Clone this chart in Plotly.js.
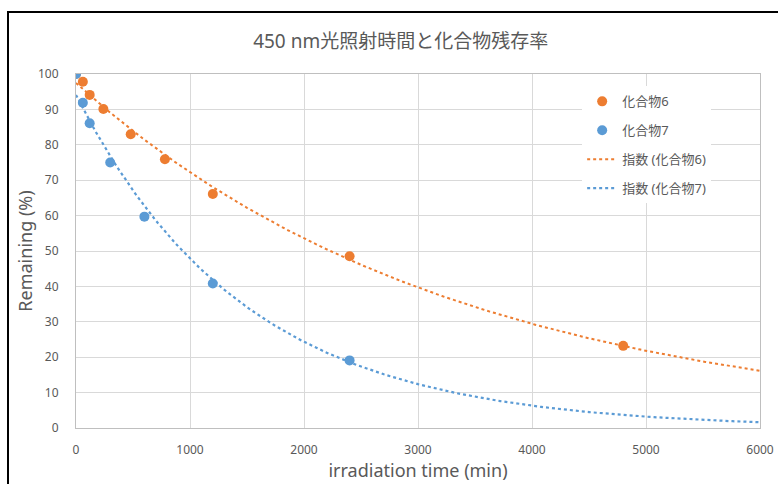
<!DOCTYPE html>
<html>
<head>
<meta charset="utf-8">
<script src="https://cdn.plot.ly/plotly-3.0.1.min.js"></script>
<style>
html,body{margin:0;padding:0;background:#fff;}
#wrap{position:relative;width:778px;height:484px;overflow:hidden;}
#chart{position:absolute;left:0;top:0;width:778px;height:484px;}
#frame{position:absolute;left:7px;top:11px;width:800px;height:500px;border-left:2.5px solid #000;border-top:2.5px solid #000;pointer-events:none;}
</style>
</head>
<body>
<div id="wrap"><div id="chart"></div><div id="frame"></div></div>
<script>
// Data
const time6 = [0, 60, 120, 240, 480, 780, 1200, 2400, 4800];
const remain6 = [100, 97.8, 94.1, 90.1, 83.0, 75.9, 66.1, 48.5, 23.2];
const time7 = [0, 60, 120, 300, 600, 1200, 2400];
const remain7 = [100, 91.9, 86.1, 75.0, 59.7, 40.8, 19.1];
const name6 = '化合物6';
const name7 = '化合物7';
const trendName6 = '指数 (化合物6)';
const trendName7 = '指数 (化合物7)';
const xTicks = [0, 1000, 2000, 3000, 4000, 5000, 6000];
const yTicks = [0, 10, 20, 30, 40, 50, 60, 70, 80, 90, 100];

// Exponential least-squares fit (like a spreadsheet exponential trendline)
function expFit(xs, ys) {
  const n = xs.length;
  const ly = ys.map(v => Math.log(v));
  const mx = xs.reduce((a, b) => a + b, 0) / n;
  const my = ly.reduce((a, b) => a + b, 0) / n;
  let sxy = 0, sxx = 0;
  for (let i = 0; i < n; i++) { sxy += (xs[i] - mx) * (ly[i] - my); sxx += (xs[i] - mx) ** 2; }
  const b = sxy / sxx;
  const a = Math.exp(my - b * mx);
  return x => a * Math.exp(b * x);
}
const fit6 = expFit(time6, remain6);
const fit7 = expFit(time7, remain7);
const xs = [];
for (let x = 0; x <= 6000; x += 30) xs.push(x);

const orange = '#ED7D31';
const blue = '#5B9BD5';
const gray = '#595959';
const font = '"Noto Sans", "Noto Sans CJK JP", sans-serif';

const traces = [
  {x: xs, y: xs.map(fit6), mode: 'lines', name: trendName6, legendrank: 3, legendgroup: 'c',
   line: {color: orange, width: 2, dash: 'dot'}, hoverinfo: 'skip'},
  {x: xs, y: xs.map(fit7), mode: 'lines', name: trendName7, legendrank: 4, legendgroup: 'd',
   line: {color: blue, width: 2.2, dash: 'dot'}, hoverinfo: 'skip'},
  {x: time6, y: remain6, mode: 'markers', name: name6, legendrank: 1, legendgroup: 'a',
   marker: {color: orange, size: 10}},
  {x: time7, y: remain7, mode: 'markers', name: name7, legendrank: 2, legendgroup: 'b',
   marker: {color: blue, size: 10}}
];

const layout = {
  width: 778, height: 484,
  margin: {l: 76, r: 18, t: 74, b: 56},
  paper_bgcolor: '#fff', plot_bgcolor: '#fff',
  font: {family: font, color: gray, size: 12},
  title: {text: '450 nm光照射時間と化合物残存率', font: {family: font, size: 19, color: gray},
          x: 0.515, xanchor: 'center', y: 0.915, yanchor: 'middle'},
  xaxis: {range: [0, 6000], tickvals: xTicks, ticktext: xTicks.map(String),
          showgrid: true, gridcolor: '#d9d9d9', gridwidth: 1,
          showline: true, linecolor: '#bfbfbf', linewidth: 1, mirror: true, zeroline: false,
          ticks: '', ticklabelstandoff: 11, tickfont: {size: 12, color: gray},
          title: {text: 'irradiation time (min)', font: {size: 18, color: gray}, standoff: 2}},
  yaxis: {range: [0, 100], tickvals: yTicks, ticktext: yTicks.map(String),
          showgrid: true, gridcolor: '#d9d9d9', gridwidth: 1,
          showline: true, linecolor: '#bfbfbf', linewidth: 1, mirror: true, zeroline: false,
          ticks: '', ticklabelstandoff: 14, tickfont: {size: 12, color: gray},
          title: {text: 'Remaining (%)', font: {size: 18, color: gray}, standoff: 0}},
  legend: {x: 0.74, y: 0.965, xanchor: 'left', yanchor: 'top', bgcolor: '#fff',
           traceorder: 'grouped', tracegroupgap: 9, font: {size: 13, color: gray}},
  showlegend: true
};

Plotly.newPlot('chart', traces, layout, {displayModeBar: false, staticPlot: true});
</script>
</body>
</html>
